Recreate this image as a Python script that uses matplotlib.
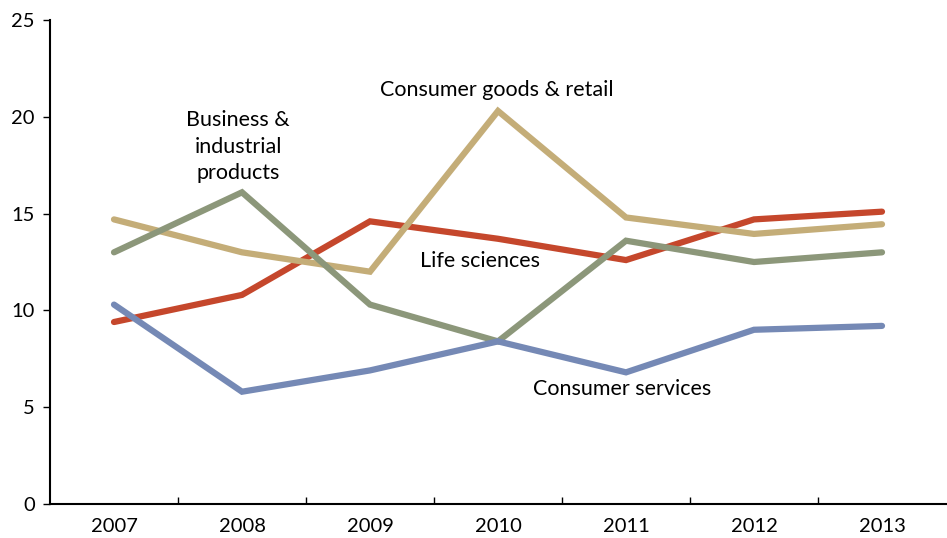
import matplotlib
matplotlib.use("Agg")
import matplotlib.pyplot as plt
import numpy as np
from matplotlib.ticker import FixedLocator

years = ["2007", "2008", "2009", "2010", "2011", "2012", "2013"]

life_sciences = [9.4, 10.8, 14.6, 13.7, 12.6, 14.7, 15.1]
consumer_goods = [14.7, 13.0, 12.0, 20.3, 14.8, 13.95, 14.45]
business_industrial = [13.0, 16.1, 10.3, 8.4, 13.6, 12.5, 13.0]
consumer_services = [10.3, 5.8, 6.9, 8.4, 6.8, 9.0, 9.2]

series = [
    (life_sciences, "#C5472C"),
    (consumer_goods, "#C4AD78"),
    (business_industrial, "#8C977A"),
    (consumer_services, "#7589B5"),
]

plt.rcParams["font.family"] = ["Lato", "DejaVu Sans"]

fig = plt.figure(figsize=(9.47, 5.38), dpi=100)
ax = fig.add_axes([50 / 947, 1 - 504 / 538, 896 / 947, 484 / 538])

x = np.arange(len(years))
for values, color in series:
    ax.plot(x, values, color=color, linewidth=4.5, solid_capstyle="round",
            solid_joinstyle="miter")

ax.set_xlim(-0.5, len(years) - 0.5)
ax.set_ylim(0, 25)
ax.set_yticks([0, 5, 10, 15, 20, 25])
ax.set_xticks(x)
ax.set_xticklabels(years)
ax.xaxis.set_minor_locator(FixedLocator(np.arange(0.5, len(years) - 0.5, 1)))

for side in ("top", "right"):
    ax.spines[side].set_visible(False)
for side in ("left", "bottom"):
    ax.spines[side].set_linewidth(1.5)
    ax.spines[side].set_color("black")

ax.tick_params(axis="y", direction="out", length=5, width=1, labelsize=14.5, pad=6)
ax.tick_params(axis="x", which="major", length=0, labelsize=14.5, pad=10)
ax.tick_params(axis="x", which="minor", direction="in", length=5, width=1)

label_kw = dict(fontsize=15.5, ha="center", va="center", color="black")
ax.text(0.97, 18.45, "Business &\nindustrial\nproducts", linespacing=1.4, **label_kw)
ax.text(2.99, 21.4, "Consumer goods & retail", **label_kw)
ax.text(2.86, 12.55, "Life sciences", **label_kw)
ax.text(3.97, 5.95, "Consumer services", **label_kw)

fig.savefig("out.png", dpi=100)
